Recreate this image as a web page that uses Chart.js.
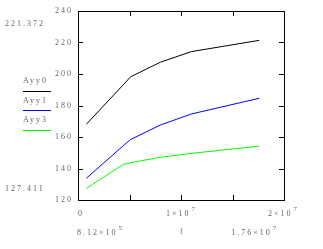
<!DOCTYPE html>
<html>
<head>
<meta charset="utf-8">
<script src="https://cdn.jsdelivr.net/npm/chart.js@4"></script>
<style>
  body { margin: 0; background: #fff; }
  #wrap { width: 323px; height: 249px; }
</style>
</head>
<body>
<div id="wrap"><canvas id="c" width="323" height="249"></canvas></div>
<script>
// frequency points (Hz)
const freq = [8.12e5, 4.4e6, 5.1e6, 8e6, 1.1e7, 1.76e7];
const ayy0 = [168.1, 193.2, 198.2, 207.5, 214.2, 221.372];
const ayy1 = [133.8, 154.5, 158.4, 167.6, 174.6, 184.6];
const ayy3 = [127.411, 142.6, 143.7, 147.1, 149.6, 154.2];
const seriesNames = ['Ayy0', 'Ayy1', 'Ayy3'];
const seriesColors = ['#000000', '#0000ff', '#00ff00'];
const yTicks = [240, 220, 200, 180, 160, 140, 120];
const xTicks = [0, 5e6, 1e7, 1.5e7, 2e7];

const toPts = (ys) => freq.map((f, i) => ({ x: f, y: ys[i] }));

const textColor = '#666';
const font = '8px "Liberation Serif"';

function txt(ctx, s, x, y, align) {
  ctx.textAlign = align || 'left';
  ctx.fillText(s, x, y);
}
// base text with superscript exponent
function sci(ctx, base, exp, x, y) {
  ctx.textAlign = 'left';
  ctx.font = font;
  ctx.fillText(base, x, y);
  const w = ctx.measureText(base).width;
  ctx.font = '7px "Liberation Serif"';
  ctx.fillText(exp, x + w + 1, y - 5);
  ctx.font = font;
}

const framePlugin = {
  id: 'frame',
  afterDraw(chart) {
    const { ctx, chartArea: a, scales } = chart;
    const xs = scales.x, ys = scales.y;
    ctx.save();
    ctx.strokeStyle = '#000';
    ctx.lineWidth = 1;
    ctx.strokeRect(a.left + 0.5, a.top + 0.5, a.right - a.left, a.bottom - a.top);
    ctx.beginPath();
    yTicks.slice(1, -1).forEach(v => {
      const p = Math.round(ys.getPixelForValue(v)) + 0.5;
      ctx.moveTo(a.left, p); ctx.lineTo(a.left + 5, p);
      ctx.moveTo(a.right, p); ctx.lineTo(a.right - 5, p);
    });
    xTicks.slice(1, -1).forEach(v => {
      const p = Math.round(xs.getPixelForValue(v)) + 0.5;
      ctx.moveTo(p, a.top); ctx.lineTo(p, a.top + 5);
      ctx.moveTo(p, a.bottom); ctx.lineTo(p, a.bottom - 5);
    });
    ctx.stroke();

    ctx.fillStyle = textColor;
    ctx.font = font;
    ctx.letterSpacing = '2px';
    ctx.textBaseline = 'middle';
    yTicks.forEach(v => txt(ctx, String(v), a.left - 5, ys.getPixelForValue(v), 'right'));
    txt(ctx, '221.372', 5, 24);
    txt(ctx, '127.411', 5, 189);

    // legend
    seriesNames.forEach((n, i) => {
      const y = 81 + i * 19.5;
      txt(ctx, n, 23, y);
      ctx.strokeStyle = seriesColors[i];
      ctx.beginPath();
      ctx.moveTo(23, Math.round(y + 9.5) + 0.5);
      ctx.lineTo(51, Math.round(y + 9.5) + 0.5);
      ctx.stroke();
    });

    // x labels
    txt(ctx, '0', xs.getPixelForValue(0), 214);
    sci(ctx, '1\u00d710', '7', xs.getPixelForValue(1e7) - 15, 214);
    sci(ctx, '2\u00d710', '7', xs.getPixelForValue(2e7) - 16, 214);
    sci(ctx, '8.12\u00d710', '5', xs.getPixelForValue(0) - 1, 233);
    txt(ctx, 'f', xs.getPixelForValue(1e7) - 1, 232);
    sci(ctx, '1.76\u00d710', '7', xs.getPixelForValue(1.76e7) - 28, 233);
    ctx.restore();
  }
};

new Chart(document.getElementById('c'), {
  type: 'scatter',
  data: {
    datasets: [ayy0, ayy1, ayy3].map((d, i) => ({
      label: seriesNames[i],
      data: toPts(d),
      showLine: true,
      borderColor: seriesColors[i],
      borderWidth: 1,
      pointRadius: 0,
      tension: 0
    }))
  },
  options: {
    responsive: false,
    animation: false,
    layout: { padding: { left: 78, top: 11, right: 39, bottom: 49 } },
    plugins: { legend: { display: false }, tooltip: { enabled: false } },
    scales: {
      x: { type: 'linear', min: 0, max: 2e7, display: false },
      y: { type: 'linear', min: 120, max: 240, display: false }
    }
  },
  plugins: [framePlugin]
});
</script>
</body>
</html>
